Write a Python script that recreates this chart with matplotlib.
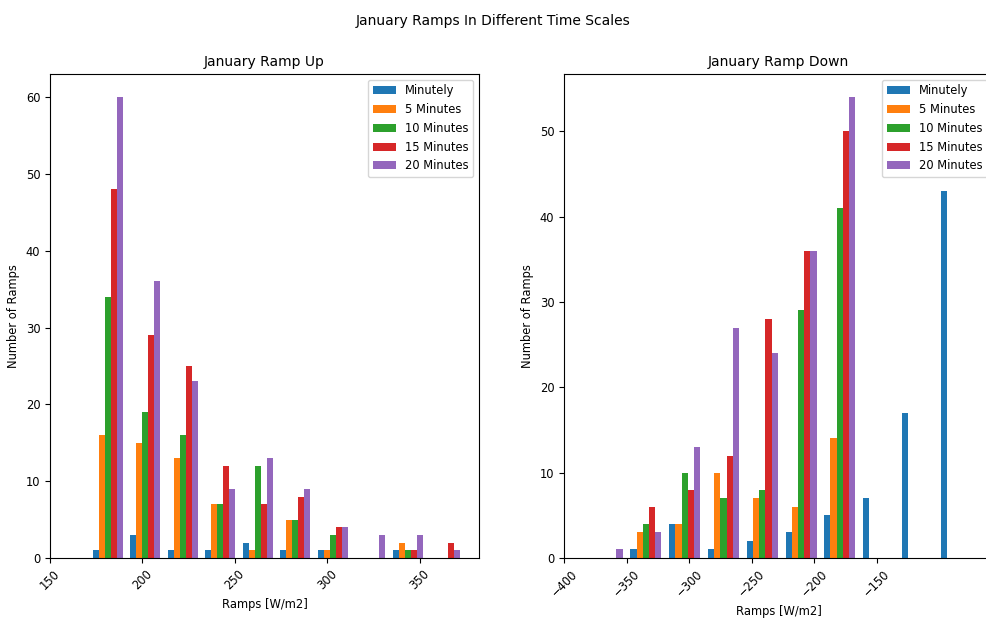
import numpy as np
import matplotlib
matplotlib.use('Agg')
import matplotlib.pyplot as plt

# ── 1. Data ──
labels = ['Minutely', '5 Minutes', '10 Minutes', '15 Minutes', '20 Minutes']

# ramp up: 10 bins starting at ~171 W/m2, ~20.3 wide
up_start, up_width = 171.0, 20.3
up_minutely = [1, 3, 1, 1, 2, 1, 1, 0, 1, 0]
up_5min     = [16, 15, 13, 7, 1, 5, 1, 0, 2, 0]
up_10min    = [34, 19, 16, 7, 12, 5, 3, 0, 1, 0]
up_15min    = [48, 29, 25, 12, 7, 8, 4, 0, 1, 2]
up_20min    = [60, 36, 23, 9, 13, 9, 4, 3, 3, 1]

# ramp down: 10 bins starting at ~-381 W/m2, ~31 wide
down_start, down_width = -381.0, 31.0
down_minutely = [0, 1, 4, 1, 2, 3, 5, 7, 17, 43]
down_5min     = [0, 3, 4, 10, 7, 6, 14, 0, 0, 0]
down_10min    = [0, 4, 10, 7, 8, 29, 41, 0, 0, 0]
down_15min    = [0, 6, 8, 12, 28, 36, 50, 0, 0, 0]
down_20min    = [1, 3, 13, 27, 24, 36, 54, 0, 0, 0]

up_ticks = [150, 200, 250, 300, 350]
down_ticks = [-400, -350, -300, -250, -200, -150]

FS = 8.3

# ── 2. Figure ──
fig = plt.figure(figsize=(9.87, 6.18), dpi=100)
ax1 = fig.add_axes([50 / 987, 60 / 618, 429 / 987, 484 / 618])
ax2 = fig.add_axes([564 / 987, 60 / 618, 429 / 987, 484 / 618])


def draw(ax, start, width, series, ticks, xlim, title):
    n = len(series[0])
    edges = start + width * np.arange(n + 1)
    centers = (edges[:-1] + edges[1:]) / 2
    ax.hist([centers] * len(series), bins=edges, weights=series, label=labels)
    ax.set_xticks(ticks)
    ax.set_xlim(*xlim)
    ax.tick_params(axis='x', labelrotation=45, labelsize=FS)
    ax.tick_params(axis='y', labelsize=FS)
    ax.set_title(title, fontsize=10)
    ax.set_xlabel('Ramps [W/m2]', fontsize=FS)
    ax.set_ylabel('Number of Ramps', fontsize=FS)
    ax.legend(loc='upper right', fontsize=FS)


draw(ax1, up_start, up_width,
     [up_minutely, up_5min, up_10min, up_15min, up_20min],
     up_ticks, (150, 382), 'January Ramp Up')
draw(ax2, down_start, down_width,
     [down_minutely, down_5min, down_10min, down_15min, down_20min],
     down_ticks, (-400, -57), 'January Ramp Down')

fig.suptitle('January Ramps In Different Time Scales', fontsize=10, y=0.978)

fig.savefig('out.png', dpi=100)
